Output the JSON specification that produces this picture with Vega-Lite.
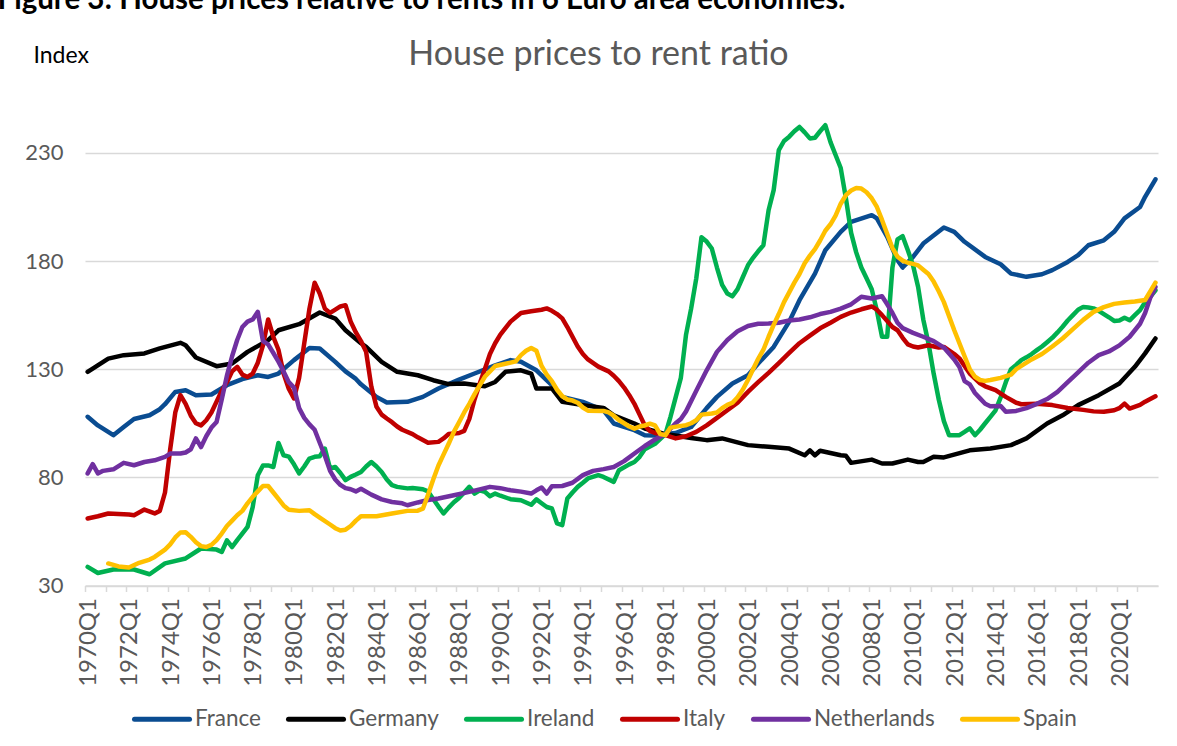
{
"$schema": "https://vega.github.io/schema/vega-lite/v6.json",
"width": 1073, "height": 497.5,
"autosize": {"type": "none"},
"padding": {"left": 85, "top": 88, "right": 19, "bottom": 160.5},
"background": "white",
"config": {"view": {"stroke": null}, "font": "Lato"},
"title": {"text": "House prices to rent ratio", "fontSize": 34, "font": "Lato", "fontWeight": "normal", "color": "#595959", "anchor": "middle", "frame": "group", "dx": -23, "offset": 20, "dy": 108},
"data": {"values": [
{"country":"France","quarter":"1970-01-01","value":108},{"country":"France","quarter":"1970-07-01","value":104},{"country":"France","quarter":"1971-04-01","value":99.5},{"country":"France","quarter":"1971-10-01","value":103.3},{"country":"France","quarter":"1972-04-01","value":107},{"country":"France","quarter":"1973-01-01","value":108.7},{"country":"France","quarter":"1973-07-01","value":111.5},{"country":"France","quarter":"1973-10-01","value":113.8},{"country":"France","quarter":"1974-04-01","value":119.5},{"country":"France","quarter":"1974-10-01","value":120.3},{"country":"France","quarter":"1975-04-01","value":118},{"country":"France","quarter":"1976-01-01","value":118.3},{"country":"France","quarter":"1976-10-01","value":122.6},{"country":"France","quarter":"1977-07-01","value":125.4},{"country":"France","quarter":"1978-04-01","value":127.2},{"country":"France","quarter":"1978-10-01","value":126.4},{"country":"France","quarter":"1979-04-01","value":128},{"country":"France","quarter":"1980-01-01","value":134.2},{"country":"France","quarter":"1980-10-01","value":139.8},{"country":"France","quarter":"1981-04-01","value":139.6},{"country":"France","quarter":"1982-01-01","value":133.4},{"country":"France","quarter":"1982-07-01","value":129},{"country":"France","quarter":"1983-01-01","value":125.5},{"country":"France","quarter":"1983-04-01","value":123},{"country":"France","quarter":"1984-01-01","value":117.2},{"country":"France","quarter":"1984-07-01","value":114.6},{"country":"France","quarter":"1985-07-01","value":114.9},{"country":"France","quarter":"1986-04-01","value":117.2},{"country":"France","quarter":"1987-01-01","value":121.1},{"country":"France","quarter":"1988-01-01","value":125.2},{"country":"France","quarter":"1988-10-01","value":128},{"country":"France","quarter":"1989-10-01","value":131.8},{"country":"France","quarter":"1990-07-01","value":134.2},{"country":"France","quarter":"1991-01-01","value":133.4},{"country":"France","quarter":"1991-10-01","value":129.5},{"country":"France","quarter":"1992-07-01","value":122.6},{"country":"France","quarter":"1993-01-01","value":117.2},{"country":"France","quarter":"1994-01-01","value":114.9},{"country":"France","quarter":"1995-01-01","value":111},{"country":"France","quarter":"1995-07-01","value":104.9},{"country":"France","quarter":"1996-07-01","value":101.8},{"country":"France","quarter":"1997-01-01","value":99.5},{"country":"France","quarter":"1997-07-01","value":99.3},{"country":"France","quarter":"1998-01-01","value":100},{"country":"France","quarter":"1998-07-01","value":100.5},{"country":"France","quarter":"1999-04-01","value":103.3},{"country":"France","quarter":"2000-01-01","value":112},{"country":"France","quarter":"2000-07-01","value":117.2},{"country":"France","quarter":"2001-04-01","value":123.4},{"country":"France","quarter":"2002-01-01","value":127.2},{"country":"France","quarter":"2002-07-01","value":132.6},{"country":"France","quarter":"2003-04-01","value":140.3},{"country":"France","quarter":"2004-01-01","value":152},{"country":"France","quarter":"2004-07-01","value":161.9},{"country":"France","quarter":"2005-04-01","value":174.2},{"country":"France","quarter":"2005-10-01","value":185},{"country":"France","quarter":"2006-07-01","value":193.5},{"country":"France","quarter":"2007-01-01","value":198.1},{"country":"France","quarter":"2008-01-01","value":201.2},{"country":"France","quarter":"2008-04-01","value":199.7},{"country":"France","quarter":"2008-10-01","value":191.2},{"country":"France","quarter":"2009-04-01","value":180.4},{"country":"France","quarter":"2009-07-01","value":177},{"country":"France","quarter":"2010-01-01","value":181.9},{"country":"France","quarter":"2010-07-01","value":188.1},{"country":"France","quarter":"2011-07-01","value":195.5},{"country":"France","quarter":"2012-01-01","value":193.5},{"country":"France","quarter":"2012-07-01","value":188.9},{"country":"France","quarter":"2013-07-01","value":181.9},{"country":"France","quarter":"2014-04-01","value":178.5},{"country":"France","quarter":"2014-10-01","value":174.2},{"country":"France","quarter":"2015-07-01","value":172.7},{"country":"France","quarter":"2016-04-01","value":173.9},{"country":"France","quarter":"2016-10-01","value":175.8},{"country":"France","quarter":"2017-07-01","value":179.6},{"country":"France","quarter":"2018-01-01","value":182.7},{"country":"France","quarter":"2018-07-01","value":187.3},{"country":"France","quarter":"2019-04-01","value":189.6},{"country":"France","quarter":"2019-10-01","value":193.5},{"country":"France","quarter":"2020-04-01","value":199.7},{"country":"France","quarter":"2021-01-01","value":205},{"country":"France","quarter":"2021-04-01","value":209.7},{"country":"France","quarter":"2021-10-01","value":217.8},
{"country":"Germany","quarter":"1970-01-01","value":128.8},{"country":"Germany","quarter":"1971-01-01","value":134.9},{"country":"Germany","quarter":"1971-10-01","value":136.5},{"country":"Germany","quarter":"1972-10-01","value":137.3},{"country":"Germany","quarter":"1973-07-01","value":139.6},{"country":"Germany","quarter":"1974-07-01","value":142.2},{"country":"Germany","quarter":"1974-10-01","value":141.1},{"country":"Germany","quarter":"1975-04-01","value":135.4},{"country":"Germany","quarter":"1976-04-01","value":131.4},{"country":"Germany","quarter":"1977-01-01","value":132.6},{"country":"Germany","quarter":"1977-10-01","value":138},{"country":"Germany","quarter":"1978-10-01","value":143.4},{"country":"Germany","quarter":"1979-04-01","value":148},{"country":"Germany","quarter":"1980-04-01","value":150.8},{"country":"Germany","quarter":"1981-04-01","value":156.2},{"country":"Germany","quarter":"1982-01-01","value":153.4},{"country":"Germany","quarter":"1982-07-01","value":148},{"country":"Germany","quarter":"1983-04-01","value":142},{"country":"Germany","quarter":"1983-07-01","value":140.3},{"country":"Germany","quarter":"1984-04-01","value":133.4},{"country":"Germany","quarter":"1985-01-01","value":128.8},{"country":"Germany","quarter":"1986-01-01","value":127.2},{"country":"Germany","quarter":"1986-10-01","value":124.9},{"country":"Germany","quarter":"1987-07-01","value":123.1},{"country":"Germany","quarter":"1988-04-01","value":123.4},{"country":"Germany","quarter":"1989-04-01","value":122.1},{"country":"Germany","quarter":"1989-10-01","value":124.1},{"country":"Germany","quarter":"1990-04-01","value":128.8},{"country":"Germany","quarter":"1991-01-01","value":129.5},{"country":"Germany","quarter":"1991-07-01","value":128},{"country":"Germany","quarter":"1991-10-01","value":121.1},{"country":"Germany","quarter":"1992-07-01","value":121.1},{"country":"Germany","quarter":"1993-01-01","value":114.9},{"country":"Germany","quarter":"1994-01-01","value":113.4},{"country":"Germany","quarter":"1995-01-01","value":112.1},{"country":"Germany","quarter":"1995-07-01","value":108.7},{"country":"Germany","quarter":"1996-07-01","value":104.9},{"country":"Germany","quarter":"1997-01-01","value":102.6},{"country":"Germany","quarter":"1998-01-01","value":100},{"country":"Germany","quarter":"1999-04-01","value":98.2},{"country":"Germany","quarter":"2000-01-01","value":97.2},{"country":"Germany","quarter":"2000-10-01","value":98},{"country":"Germany","quarter":"2002-01-01","value":94.9},{"country":"Germany","quarter":"2003-01-01","value":94.1},{"country":"Germany","quarter":"2004-01-01","value":93.3},{"country":"Germany","quarter":"2004-10-01","value":90.2},{"country":"Germany","quarter":"2005-01-01","value":92.5},{"country":"Germany","quarter":"2005-04-01","value":90.2},{"country":"Germany","quarter":"2005-07-01","value":92.3},{"country":"Germany","quarter":"2006-07-01","value":90.2},{"country":"Germany","quarter":"2006-10-01","value":90},{"country":"Germany","quarter":"2007-01-01","value":86.7},{"country":"Germany","quarter":"2008-01-01","value":88.2},{"country":"Germany","quarter":"2008-07-01","value":86.4},{"country":"Germany","quarter":"2009-01-01","value":86.4},{"country":"Germany","quarter":"2009-10-01","value":88.2},{"country":"Germany","quarter":"2010-04-01","value":87.1},{"country":"Germany","quarter":"2010-07-01","value":87.1},{"country":"Germany","quarter":"2011-01-01","value":89.5},{"country":"Germany","quarter":"2011-07-01","value":89.2},{"country":"Germany","quarter":"2012-10-01","value":92.5},{"country":"Germany","quarter":"2013-10-01","value":93.3},{"country":"Germany","quarter":"2014-10-01","value":94.9},{"country":"Germany","quarter":"2015-07-01","value":98},{"country":"Germany","quarter":"2016-07-01","value":104.9},{"country":"Germany","quarter":"2017-04-01","value":108.7},{"country":"Germany","quarter":"2018-01-01","value":113.4},{"country":"Germany","quarter":"2019-01-01","value":118},{"country":"Germany","quarter":"2020-01-01","value":123.4},{"country":"Germany","quarter":"2020-10-01","value":131.1},{"country":"Germany","quarter":"2021-04-01","value":137.3},{"country":"Germany","quarter":"2021-10-01","value":144.2},
{"country":"Ireland","quarter":"1970-01-01","value":38.6},{"country":"Ireland","quarter":"1970-07-01","value":35.8},{"country":"Ireland","quarter":"1971-04-01","value":37.4},{"country":"Ireland","quarter":"1972-04-01","value":37.4},{"country":"Ireland","quarter":"1973-01-01","value":35.2},{"country":"Ireland","quarter":"1973-10-01","value":40.2},{"country":"Ireland","quarter":"1974-10-01","value":42.5},{"country":"Ireland","quarter":"1975-07-01","value":47.1},{"country":"Ireland","quarter":"1976-04-01","value":46.6},{"country":"Ireland","quarter":"1976-07-01","value":45.5},{"country":"Ireland","quarter":"1976-10-01","value":50.9},{"country":"Ireland","quarter":"1977-01-01","value":47.8},{"country":"Ireland","quarter":"1977-04-01","value":51},{"country":"Ireland","quarter":"1977-10-01","value":57.1},{"country":"Ireland","quarter":"1978-01-01","value":66.3},{"country":"Ireland","quarter":"1978-04-01","value":81},{"country":"Ireland","quarter":"1978-07-01","value":85.5},{"country":"Ireland","quarter":"1978-10-01","value":85.5},{"country":"Ireland","quarter":"1979-01-01","value":84.8},{"country":"Ireland","quarter":"1979-04-01","value":95.9},{"country":"Ireland","quarter":"1979-07-01","value":90.2},{"country":"Ireland","quarter":"1979-10-01","value":89.6},{"country":"Ireland","quarter":"1980-01-01","value":86},{"country":"Ireland","quarter":"1980-04-01","value":81.8},{"country":"Ireland","quarter":"1980-07-01","value":85},{"country":"Ireland","quarter":"1980-10-01","value":88.7},{"country":"Ireland","quarter":"1981-01-01","value":89.5},{"country":"Ireland","quarter":"1981-04-01","value":89.8},{"country":"Ireland","quarter":"1981-07-01","value":93.3},{"country":"Ireland","quarter":"1981-10-01","value":84.1},{"country":"Ireland","quarter":"1982-01-01","value":84.8},{"country":"Ireland","quarter":"1982-04-01","value":82},{"country":"Ireland","quarter":"1982-07-01","value":78.7},{"country":"Ireland","quarter":"1982-10-01","value":80.2},{"country":"Ireland","quarter":"1983-01-01","value":81.3},{"country":"Ireland","quarter":"1983-04-01","value":82.5},{"country":"Ireland","quarter":"1983-07-01","value":85},{"country":"Ireland","quarter":"1983-10-01","value":87.1},{"country":"Ireland","quarter":"1984-01-01","value":85},{"country":"Ireland","quarter":"1984-04-01","value":82.5},{"country":"Ireland","quarter":"1984-07-01","value":79},{"country":"Ireland","quarter":"1984-10-01","value":76.4},{"country":"Ireland","quarter":"1985-01-01","value":75.6},{"country":"Ireland","quarter":"1985-07-01","value":74.9},{"country":"Ireland","quarter":"1985-10-01","value":75.1},{"country":"Ireland","quarter":"1986-04-01","value":74.5},{"country":"Ireland","quarter":"1986-07-01","value":73.5},{"country":"Ireland","quarter":"1986-10-01","value":70},{"country":"Ireland","quarter":"1987-01-01","value":66.5},{"country":"Ireland","quarter":"1987-04-01","value":63.3},{"country":"Ireland","quarter":"1987-07-01","value":66},{"country":"Ireland","quarter":"1987-10-01","value":68.5},{"country":"Ireland","quarter":"1988-01-01","value":70.5},{"country":"Ireland","quarter":"1988-04-01","value":73},{"country":"Ireland","quarter":"1988-07-01","value":75.6},{"country":"Ireland","quarter":"1988-10-01","value":72.5},{"country":"Ireland","quarter":"1989-01-01","value":74},{"country":"Ireland","quarter":"1989-04-01","value":73.3},{"country":"Ireland","quarter":"1989-07-01","value":71.3},{"country":"Ireland","quarter":"1989-10-01","value":72.5},{"country":"Ireland","quarter":"1990-01-01","value":71.5},{"country":"Ireland","quarter":"1990-07-01","value":69.9},{"country":"Ireland","quarter":"1991-01-01","value":69.4},{"country":"Ireland","quarter":"1991-07-01","value":67.3},{"country":"Ireland","quarter":"1991-10-01","value":69.8},{"country":"Ireland","quarter":"1992-01-01","value":68},{"country":"Ireland","quarter":"1992-04-01","value":66.3},{"country":"Ireland","quarter":"1992-07-01","value":65.6},{"country":"Ireland","quarter":"1992-10-01","value":58.7},{"country":"Ireland","quarter":"1993-01-01","value":57.9},{"country":"Ireland","quarter":"1993-04-01","value":70.2},{"country":"Ireland","quarter":"1993-07-01","value":73},{"country":"Ireland","quarter":"1993-10-01","value":75.6},{"country":"Ireland","quarter":"1994-01-01","value":77.5},{"country":"Ireland","quarter":"1994-04-01","value":79.5},{"country":"Ireland","quarter":"1994-10-01","value":81},{"country":"Ireland","quarter":"1995-01-01","value":80.2},{"country":"Ireland","quarter":"1995-07-01","value":77.9},{"country":"Ireland","quarter":"1995-10-01","value":83.3},{"country":"Ireland","quarter":"1996-04-01","value":86},{"country":"Ireland","quarter":"1996-07-01","value":87.1},{"country":"Ireland","quarter":"1996-10-01","value":89.5},{"country":"Ireland","quarter":"1997-01-01","value":93},{"country":"Ireland","quarter":"1997-07-01","value":95.5},{"country":"Ireland","quarter":"1998-01-01","value":100},{"country":"Ireland","quarter":"1998-04-01","value":108},{"country":"Ireland","quarter":"1998-07-01","value":117},{"country":"Ireland","quarter":"1998-10-01","value":126},{"country":"Ireland","quarter":"1999-01-01","value":146},{"country":"Ireland","quarter":"1999-04-01","value":158},{"country":"Ireland","quarter":"1999-07-01","value":172},{"country":"Ireland","quarter":"1999-10-01","value":191},{"country":"Ireland","quarter":"2000-01-01","value":189},{"country":"Ireland","quarter":"2000-04-01","value":185.8},{"country":"Ireland","quarter":"2000-07-01","value":177},{"country":"Ireland","quarter":"2000-10-01","value":169},{"country":"Ireland","quarter":"2001-01-01","value":165},{"country":"Ireland","quarter":"2001-04-01","value":163.7},{"country":"Ireland","quarter":"2001-07-01","value":167},{"country":"Ireland","quarter":"2001-10-01","value":172.5},{"country":"Ireland","quarter":"2002-01-01","value":178},{"country":"Ireland","quarter":"2002-04-01","value":181.5},{"country":"Ireland","quarter":"2002-07-01","value":184.5},{"country":"Ireland","quarter":"2002-10-01","value":187.3},{"country":"Ireland","quarter":"2003-01-01","value":203.5},{"country":"Ireland","quarter":"2003-04-01","value":212.8},{"country":"Ireland","quarter":"2003-07-01","value":231.3},{"country":"Ireland","quarter":"2003-10-01","value":235.5},{"country":"Ireland","quarter":"2004-01-01","value":237.5},{"country":"Ireland","quarter":"2004-04-01","value":240},{"country":"Ireland","quarter":"2004-07-01","value":242},{"country":"Ireland","quarter":"2004-10-01","value":239.5},{"country":"Ireland","quarter":"2005-01-01","value":236.7},{"country":"Ireland","quarter":"2005-04-01","value":237},{"country":"Ireland","quarter":"2005-07-01","value":240},{"country":"Ireland","quarter":"2005-10-01","value":242.8},{"country":"Ireland","quarter":"2006-01-01","value":235},{"country":"Ireland","quarter":"2006-04-01","value":229},{"country":"Ireland","quarter":"2006-07-01","value":223},{"country":"Ireland","quarter":"2006-10-01","value":209},{"country":"Ireland","quarter":"2007-01-01","value":193},{"country":"Ireland","quarter":"2007-04-01","value":184},{"country":"Ireland","quarter":"2007-07-01","value":177},{"country":"Ireland","quarter":"2007-10-01","value":172},{"country":"Ireland","quarter":"2008-01-01","value":167},{"country":"Ireland","quarter":"2008-04-01","value":157},{"country":"Ireland","quarter":"2008-07-01","value":145},{"country":"Ireland","quarter":"2008-10-01","value":145},{"country":"Ireland","quarter":"2009-01-01","value":177},{"country":"Ireland","quarter":"2009-04-01","value":190},{"country":"Ireland","quarter":"2009-07-01","value":191.5},{"country":"Ireland","quarter":"2009-10-01","value":185},{"country":"Ireland","quarter":"2010-01-01","value":178},{"country":"Ireland","quarter":"2010-04-01","value":168},{"country":"Ireland","quarter":"2010-07-01","value":153},{"country":"Ireland","quarter":"2010-10-01","value":142},{"country":"Ireland","quarter":"2011-01-01","value":128},{"country":"Ireland","quarter":"2011-04-01","value":116},{"country":"Ireland","quarter":"2011-07-01","value":106},{"country":"Ireland","quarter":"2011-10-01","value":99.5},{"country":"Ireland","quarter":"2012-01-01","value":99.5},{"country":"Ireland","quarter":"2012-04-01","value":99.5},{"country":"Ireland","quarter":"2012-07-01","value":101},{"country":"Ireland","quarter":"2012-10-01","value":102.6},{"country":"Ireland","quarter":"2013-01-01","value":99.5},{"country":"Ireland","quarter":"2013-04-01","value":102},{"country":"Ireland","quarter":"2013-07-01","value":105},{"country":"Ireland","quarter":"2013-10-01","value":108},{"country":"Ireland","quarter":"2014-01-01","value":111},{"country":"Ireland","quarter":"2014-04-01","value":117},{"country":"Ireland","quarter":"2014-07-01","value":124},{"country":"Ireland","quarter":"2014-10-01","value":130},{"country":"Ireland","quarter":"2015-01-01","value":132},{"country":"Ireland","quarter":"2015-04-01","value":134.2},{"country":"Ireland","quarter":"2015-07-01","value":135.5},{"country":"Ireland","quarter":"2015-10-01","value":137},{"country":"Ireland","quarter":"2016-01-01","value":138.8},{"country":"Ireland","quarter":"2016-04-01","value":140.5},{"country":"Ireland","quarter":"2016-07-01","value":142.5},{"country":"Ireland","quarter":"2016-10-01","value":144.5},{"country":"Ireland","quarter":"2017-01-01","value":147},{"country":"Ireland","quarter":"2017-04-01","value":149.6},{"country":"Ireland","quarter":"2017-07-01","value":152.5},{"country":"Ireland","quarter":"2017-10-01","value":155},{"country":"Ireland","quarter":"2018-01-01","value":157.5},{"country":"Ireland","quarter":"2018-04-01","value":158.8},{"country":"Ireland","quarter":"2018-07-01","value":158.5},{"country":"Ireland","quarter":"2018-10-01","value":158.1},{"country":"Ireland","quarter":"2019-01-01","value":157},{"country":"Ireland","quarter":"2019-04-01","value":155.5},{"country":"Ireland","quarter":"2019-07-01","value":154},{"country":"Ireland","quarter":"2019-10-01","value":152.3},{"country":"Ireland","quarter":"2020-01-01","value":152.5},{"country":"Ireland","quarter":"2020-04-01","value":153.8},{"country":"Ireland","quarter":"2020-07-01","value":152.6},{"country":"Ireland","quarter":"2020-10-01","value":155},{"country":"Ireland","quarter":"2021-01-01","value":157.3},{"country":"Ireland","quarter":"2021-04-01","value":161},{"country":"Ireland","quarter":"2021-07-01","value":163.5},{"country":"Ireland","quarter":"2021-10-01","value":166.5},
{"country":"Italy","quarter":"1970-01-01","value":61},{"country":"Italy","quarter":"1970-07-01","value":62},{"country":"Italy","quarter":"1971-01-01","value":63.3},{"country":"Italy","quarter":"1971-07-01","value":63},{"country":"Italy","quarter":"1972-01-01","value":62.8},{"country":"Italy","quarter":"1972-04-01","value":62.5},{"country":"Italy","quarter":"1972-10-01","value":65.1},{"country":"Italy","quarter":"1973-04-01","value":63.3},{"country":"Italy","quarter":"1973-07-01","value":64.5},{"country":"Italy","quarter":"1973-10-01","value":73},{"country":"Italy","quarter":"1974-01-01","value":93},{"country":"Italy","quarter":"1974-04-01","value":110},{"country":"Italy","quarter":"1974-07-01","value":118},{"country":"Italy","quarter":"1974-10-01","value":114},{"country":"Italy","quarter":"1975-01-01","value":108.5},{"country":"Italy","quarter":"1975-04-01","value":105},{"country":"Italy","quarter":"1975-07-01","value":104},{"country":"Italy","quarter":"1975-10-01","value":106.4},{"country":"Italy","quarter":"1976-01-01","value":110},{"country":"Italy","quarter":"1976-04-01","value":115},{"country":"Italy","quarter":"1976-07-01","value":120},{"country":"Italy","quarter":"1976-10-01","value":124},{"country":"Italy","quarter":"1977-01-01","value":129},{"country":"Italy","quarter":"1977-04-01","value":131.1},{"country":"Italy","quarter":"1977-07-01","value":127.5},{"country":"Italy","quarter":"1977-10-01","value":126.4},{"country":"Italy","quarter":"1978-01-01","value":128},{"country":"Italy","quarter":"1978-04-01","value":133},{"country":"Italy","quarter":"1978-07-01","value":141},{"country":"Italy","quarter":"1978-10-01","value":153},{"country":"Italy","quarter":"1979-01-01","value":144.9},{"country":"Italy","quarter":"1979-04-01","value":139},{"country":"Italy","quarter":"1979-07-01","value":128},{"country":"Italy","quarter":"1979-10-01","value":121},{"country":"Italy","quarter":"1980-01-01","value":116.5},{"country":"Italy","quarter":"1980-04-01","value":126},{"country":"Italy","quarter":"1980-07-01","value":142},{"country":"Italy","quarter":"1980-10-01","value":158},{"country":"Italy","quarter":"1981-01-01","value":170},{"country":"Italy","quarter":"1981-04-01","value":165},{"country":"Italy","quarter":"1981-07-01","value":158},{"country":"Italy","quarter":"1981-10-01","value":156},{"country":"Italy","quarter":"1982-01-01","value":157.5},{"country":"Italy","quarter":"1982-04-01","value":159},{"country":"Italy","quarter":"1982-07-01","value":159.6},{"country":"Italy","quarter":"1982-10-01","value":152},{"country":"Italy","quarter":"1983-01-01","value":147},{"country":"Italy","quarter":"1983-04-01","value":143},{"country":"Italy","quarter":"1983-07-01","value":138},{"country":"Italy","quarter":"1983-10-01","value":122},{"country":"Italy","quarter":"1984-01-01","value":112.6},{"country":"Italy","quarter":"1984-04-01","value":109},{"country":"Italy","quarter":"1984-07-01","value":107.2},{"country":"Italy","quarter":"1984-10-01","value":105.5},{"country":"Italy","quarter":"1985-01-01","value":103.5},{"country":"Italy","quarter":"1985-04-01","value":102},{"country":"Italy","quarter":"1985-10-01","value":100},{"country":"Italy","quarter":"1986-01-01","value":98.5},{"country":"Italy","quarter":"1986-07-01","value":96},{"country":"Italy","quarter":"1987-01-01","value":96.4},{"country":"Italy","quarter":"1987-04-01","value":98},{"country":"Italy","quarter":"1987-07-01","value":100},{"country":"Italy","quarter":"1988-01-01","value":100.5},{"country":"Italy","quarter":"1988-04-01","value":101.5},{"country":"Italy","quarter":"1988-07-01","value":107},{"country":"Italy","quarter":"1988-10-01","value":116},{"country":"Italy","quarter":"1989-01-01","value":123.4},{"country":"Italy","quarter":"1989-04-01","value":130},{"country":"Italy","quarter":"1989-07-01","value":137},{"country":"Italy","quarter":"1989-10-01","value":142},{"country":"Italy","quarter":"1990-01-01","value":146},{"country":"Italy","quarter":"1990-04-01","value":149},{"country":"Italy","quarter":"1990-07-01","value":152},{"country":"Italy","quarter":"1990-10-01","value":154},{"country":"Italy","quarter":"1991-01-01","value":156},{"country":"Italy","quarter":"1991-07-01","value":156.8},{"country":"Italy","quarter":"1992-01-01","value":157.5},{"country":"Italy","quarter":"1992-04-01","value":158.1},{"country":"Italy","quarter":"1992-07-01","value":157},{"country":"Italy","quarter":"1992-10-01","value":155.5},{"country":"Italy","quarter":"1993-01-01","value":153.5},{"country":"Italy","quarter":"1993-04-01","value":149.5},{"country":"Italy","quarter":"1993-07-01","value":145},{"country":"Italy","quarter":"1993-10-01","value":140.5},{"country":"Italy","quarter":"1994-01-01","value":137},{"country":"Italy","quarter":"1994-04-01","value":134.5},{"country":"Italy","quarter":"1994-10-01","value":131.2},{"country":"Italy","quarter":"1995-04-01","value":129},{"country":"Italy","quarter":"1995-07-01","value":127},{"country":"Italy","quarter":"1995-10-01","value":124.5},{"country":"Italy","quarter":"1996-01-01","value":121.5},{"country":"Italy","quarter":"1996-04-01","value":118},{"country":"Italy","quarter":"1996-07-01","value":114},{"country":"Italy","quarter":"1996-10-01","value":109},{"country":"Italy","quarter":"1997-01-01","value":104},{"country":"Italy","quarter":"1997-04-01","value":101.5},{"country":"Italy","quarter":"1997-07-01","value":100.5},{"country":"Italy","quarter":"1998-01-01","value":99.5},{"country":"Italy","quarter":"1998-07-01","value":98},{"country":"Italy","quarter":"1999-01-01","value":99},{"country":"Italy","quarter":"1999-07-01","value":101},{"country":"Italy","quarter":"2000-01-01","value":104},{"country":"Italy","quarter":"2000-07-01","value":107.5},{"country":"Italy","quarter":"2001-01-01","value":111},{"country":"Italy","quarter":"2001-07-01","value":114.5},{"country":"Italy","quarter":"2002-01-01","value":119.5},{"country":"Italy","quarter":"2002-07-01","value":124},{"country":"Italy","quarter":"2003-01-01","value":128.3},{"country":"Italy","quarter":"2003-07-01","value":132.8},{"country":"Italy","quarter":"2004-01-01","value":137.5},{"country":"Italy","quarter":"2004-07-01","value":142},{"country":"Italy","quarter":"2005-01-01","value":145.5},{"country":"Italy","quarter":"2005-07-01","value":148.9},{"country":"Italy","quarter":"2006-01-01","value":151.5},{"country":"Italy","quarter":"2006-07-01","value":154.2},{"country":"Italy","quarter":"2007-01-01","value":156.2},{"country":"Italy","quarter":"2007-07-01","value":157.7},{"country":"Italy","quarter":"2008-01-01","value":159},{"country":"Italy","quarter":"2008-04-01","value":157.5},{"country":"Italy","quarter":"2008-07-01","value":155},{"country":"Italy","quarter":"2009-01-01","value":149.5},{"country":"Italy","quarter":"2009-04-01","value":148},{"country":"Italy","quarter":"2009-07-01","value":144.5},{"country":"Italy","quarter":"2009-10-01","value":141.5},{"country":"Italy","quarter":"2010-01-01","value":140.5},{"country":"Italy","quarter":"2010-04-01","value":140},{"country":"Italy","quarter":"2010-10-01","value":141.1},{"country":"Italy","quarter":"2011-04-01","value":140},{"country":"Italy","quarter":"2011-07-01","value":140.3},{"country":"Italy","quarter":"2012-01-01","value":137},{"country":"Italy","quarter":"2012-04-01","value":135},{"country":"Italy","quarter":"2012-10-01","value":128},{"country":"Italy","quarter":"2013-04-01","value":123.5},{"country":"Italy","quarter":"2013-07-01","value":122.1},{"country":"Italy","quarter":"2014-01-01","value":120.3},{"country":"Italy","quarter":"2014-07-01","value":117.2},{"country":"Italy","quarter":"2015-01-01","value":114.5},{"country":"Italy","quarter":"2015-04-01","value":113.8},{"country":"Italy","quarter":"2016-01-01","value":114},{"country":"Italy","quarter":"2016-10-01","value":113.4},{"country":"Italy","quarter":"2017-07-01","value":112.1},{"country":"Italy","quarter":"2018-04-01","value":111.2},{"country":"Italy","quarter":"2018-10-01","value":110.5},{"country":"Italy","quarter":"2019-04-01","value":110.3},{"country":"Italy","quarter":"2019-10-01","value":111},{"country":"Italy","quarter":"2020-01-01","value":112},{"country":"Italy","quarter":"2020-04-01","value":114.1},{"country":"Italy","quarter":"2020-07-01","value":111.8},{"country":"Italy","quarter":"2021-01-01","value":113.5},{"country":"Italy","quarter":"2021-04-01","value":115},{"country":"Italy","quarter":"2021-10-01","value":117.5},
{"country":"Netherlands","quarter":"1970-01-01","value":81.8},{"country":"Netherlands","quarter":"1970-04-01","value":86.1},{"country":"Netherlands","quarter":"1970-07-01","value":81.8},{"country":"Netherlands","quarter":"1970-10-01","value":83},{"country":"Netherlands","quarter":"1971-04-01","value":83.7},{"country":"Netherlands","quarter":"1971-10-01","value":86.7},{"country":"Netherlands","quarter":"1972-04-01","value":85.6},{"country":"Netherlands","quarter":"1972-10-01","value":87.1},{"country":"Netherlands","quarter":"1973-04-01","value":87.9},{"country":"Netherlands","quarter":"1973-10-01","value":89.5},{"country":"Netherlands","quarter":"1974-01-01","value":91},{"country":"Netherlands","quarter":"1974-07-01","value":91},{"country":"Netherlands","quarter":"1974-10-01","value":91.5},{"country":"Netherlands","quarter":"1975-01-01","value":93},{"country":"Netherlands","quarter":"1975-04-01","value":98},{"country":"Netherlands","quarter":"1975-07-01","value":94},{"country":"Netherlands","quarter":"1975-10-01","value":99},{"country":"Netherlands","quarter":"1976-01-01","value":103},{"country":"Netherlands","quarter":"1976-04-01","value":105.6},{"country":"Netherlands","quarter":"1976-07-01","value":116},{"country":"Netherlands","quarter":"1976-10-01","value":127},{"country":"Netherlands","quarter":"1977-01-01","value":136},{"country":"Netherlands","quarter":"1977-04-01","value":143.5},{"country":"Netherlands","quarter":"1977-07-01","value":149.5},{"country":"Netherlands","quarter":"1977-10-01","value":152},{"country":"Netherlands","quarter":"1978-01-01","value":153},{"country":"Netherlands","quarter":"1978-04-01","value":156.5},{"country":"Netherlands","quarter":"1978-07-01","value":143},{"country":"Netherlands","quarter":"1978-10-01","value":141.5},{"country":"Netherlands","quarter":"1979-01-01","value":137.5},{"country":"Netherlands","quarter":"1979-04-01","value":133.5},{"country":"Netherlands","quarter":"1979-07-01","value":129},{"country":"Netherlands","quarter":"1979-10-01","value":124},{"country":"Netherlands","quarter":"1980-01-01","value":121.5},{"country":"Netherlands","quarter":"1980-04-01","value":112},{"country":"Netherlands","quarter":"1980-07-01","value":107.5},{"country":"Netherlands","quarter":"1980-10-01","value":104.5},{"country":"Netherlands","quarter":"1981-01-01","value":102},{"country":"Netherlands","quarter":"1981-04-01","value":96},{"country":"Netherlands","quarter":"1981-07-01","value":90},{"country":"Netherlands","quarter":"1981-10-01","value":83},{"country":"Netherlands","quarter":"1982-01-01","value":79},{"country":"Netherlands","quarter":"1982-04-01","value":76.5},{"country":"Netherlands","quarter":"1982-07-01","value":75},{"country":"Netherlands","quarter":"1982-10-01","value":74.5},{"country":"Netherlands","quarter":"1983-01-01","value":73.5},{"country":"Netherlands","quarter":"1983-04-01","value":74.7},{"country":"Netherlands","quarter":"1983-10-01","value":72},{"country":"Netherlands","quarter":"1984-04-01","value":69.8},{"country":"Netherlands","quarter":"1984-10-01","value":68.6},{"country":"Netherlands","quarter":"1985-04-01","value":68},{"country":"Netherlands","quarter":"1985-07-01","value":67.1},{"country":"Netherlands","quarter":"1986-01-01","value":68.4},{"country":"Netherlands","quarter":"1986-07-01","value":69.5},{"country":"Netherlands","quarter":"1987-01-01","value":70.2},{"country":"Netherlands","quarter":"1987-10-01","value":71.7},{"country":"Netherlands","quarter":"1988-07-01","value":73.3},{"country":"Netherlands","quarter":"1989-07-01","value":75.6},{"country":"Netherlands","quarter":"1990-01-01","value":75},{"country":"Netherlands","quarter":"1990-07-01","value":74},{"country":"Netherlands","quarter":"1991-01-01","value":73.4},{"country":"Netherlands","quarter":"1991-07-01","value":72.5},{"country":"Netherlands","quarter":"1991-10-01","value":74},{"country":"Netherlands","quarter":"1992-01-01","value":75.3},{"country":"Netherlands","quarter":"1992-04-01","value":72.5},{"country":"Netherlands","quarter":"1992-07-01","value":75.9},{"country":"Netherlands","quarter":"1993-01-01","value":76},{"country":"Netherlands","quarter":"1993-07-01","value":77.5},{"country":"Netherlands","quarter":"1994-01-01","value":81},{"country":"Netherlands","quarter":"1994-07-01","value":83},{"country":"Netherlands","quarter":"1995-01-01","value":83.8},{"country":"Netherlands","quarter":"1995-07-01","value":84.8},{"country":"Netherlands","quarter":"1996-01-01","value":87.5},{"country":"Netherlands","quarter":"1996-07-01","value":91},{"country":"Netherlands","quarter":"1997-01-01","value":94.5},{"country":"Netherlands","quarter":"1997-07-01","value":97.5},{"country":"Netherlands","quarter":"1998-01-01","value":100},{"country":"Netherlands","quarter":"1998-07-01","value":105},{"country":"Netherlands","quarter":"1998-10-01","value":107},{"country":"Netherlands","quarter":"1999-01-01","value":110.5},{"country":"Netherlands","quarter":"1999-07-01","value":120},{"country":"Netherlands","quarter":"2000-01-01","value":129.5},{"country":"Netherlands","quarter":"2000-07-01","value":138},{"country":"Netherlands","quarter":"2001-01-01","value":143.5},{"country":"Netherlands","quarter":"2001-07-01","value":147.5},{"country":"Netherlands","quarter":"2002-01-01","value":150},{"country":"Netherlands","quarter":"2002-07-01","value":151},{"country":"Netherlands","quarter":"2003-01-01","value":151.1},{"country":"Netherlands","quarter":"2003-07-01","value":151.5},{"country":"Netherlands","quarter":"2004-01-01","value":152.5},{"country":"Netherlands","quarter":"2004-07-01","value":153},{"country":"Netherlands","quarter":"2005-01-01","value":154},{"country":"Netherlands","quarter":"2005-07-01","value":155.5},{"country":"Netherlands","quarter":"2006-01-01","value":156.5},{"country":"Netherlands","quarter":"2006-07-01","value":158},{"country":"Netherlands","quarter":"2007-01-01","value":160},{"country":"Netherlands","quarter":"2007-07-01","value":163.5},{"country":"Netherlands","quarter":"2008-01-01","value":162.7},{"country":"Netherlands","quarter":"2008-07-01","value":163.7},{"country":"Netherlands","quarter":"2008-10-01","value":160},{"country":"Netherlands","quarter":"2009-01-01","value":156},{"country":"Netherlands","quarter":"2009-04-01","value":151.5},{"country":"Netherlands","quarter":"2009-07-01","value":149},{"country":"Netherlands","quarter":"2010-01-01","value":146.8},{"country":"Netherlands","quarter":"2010-07-01","value":145},{"country":"Netherlands","quarter":"2011-01-01","value":143},{"country":"Netherlands","quarter":"2011-07-01","value":140},{"country":"Netherlands","quarter":"2012-01-01","value":134.5},{"country":"Netherlands","quarter":"2012-04-01","value":131},{"country":"Netherlands","quarter":"2012-07-01","value":124.5},{"country":"Netherlands","quarter":"2012-10-01","value":123},{"country":"Netherlands","quarter":"2013-01-01","value":119},{"country":"Netherlands","quarter":"2013-04-01","value":116.5},{"country":"Netherlands","quarter":"2013-07-01","value":114},{"country":"Netherlands","quarter":"2013-10-01","value":112.9},{"country":"Netherlands","quarter":"2014-04-01","value":113},{"country":"Netherlands","quarter":"2014-07-01","value":110.3},{"country":"Netherlands","quarter":"2015-01-01","value":110.7},{"country":"Netherlands","quarter":"2015-07-01","value":112},{"country":"Netherlands","quarter":"2016-01-01","value":114},{"country":"Netherlands","quarter":"2016-07-01","value":116.2},{"country":"Netherlands","quarter":"2017-01-01","value":119.5},{"country":"Netherlands","quarter":"2017-07-01","value":124},{"country":"Netherlands","quarter":"2018-01-01","value":128.5},{"country":"Netherlands","quarter":"2018-07-01","value":133},{"country":"Netherlands","quarter":"2019-01-01","value":136.5},{"country":"Netherlands","quarter":"2019-07-01","value":138.2},{"country":"Netherlands","quarter":"2020-01-01","value":141},{"country":"Netherlands","quarter":"2020-07-01","value":145},{"country":"Netherlands","quarter":"2021-01-01","value":151},{"country":"Netherlands","quarter":"2021-04-01","value":156},{"country":"Netherlands","quarter":"2021-07-01","value":163},{"country":"Netherlands","quarter":"2021-10-01","value":168},
{"country":"Spain","quarter":"1971-01-01","value":40.2},{"country":"Spain","quarter":"1971-07-01","value":38.8},{"country":"Spain","quarter":"1972-01-01","value":38.3},{"country":"Spain","quarter":"1972-07-01","value":40.5},{"country":"Spain","quarter":"1973-01-01","value":42},{"country":"Spain","quarter":"1973-04-01","value":43.2},{"country":"Spain","quarter":"1973-10-01","value":46.6},{"country":"Spain","quarter":"1974-01-01","value":49},{"country":"Spain","quarter":"1974-04-01","value":52.2},{"country":"Spain","quarter":"1974-07-01","value":54.5},{"country":"Spain","quarter":"1974-10-01","value":54.6},{"country":"Spain","quarter":"1975-01-01","value":52.5},{"country":"Spain","quarter":"1975-04-01","value":50},{"country":"Spain","quarter":"1975-07-01","value":48.2},{"country":"Spain","quarter":"1975-10-01","value":47.8},{"country":"Spain","quarter":"1976-01-01","value":48.8},{"country":"Spain","quarter":"1976-04-01","value":51},{"country":"Spain","quarter":"1976-07-01","value":54},{"country":"Spain","quarter":"1976-10-01","value":57.5},{"country":"Spain","quarter":"1977-01-01","value":60},{"country":"Spain","quarter":"1977-04-01","value":62.5},{"country":"Spain","quarter":"1977-07-01","value":64.5},{"country":"Spain","quarter":"1977-10-01","value":68},{"country":"Spain","quarter":"1978-01-01","value":71},{"country":"Spain","quarter":"1978-04-01","value":73.5},{"country":"Spain","quarter":"1978-07-01","value":76},{"country":"Spain","quarter":"1978-10-01","value":76},{"country":"Spain","quarter":"1979-01-01","value":73},{"country":"Spain","quarter":"1979-04-01","value":70},{"country":"Spain","quarter":"1979-07-01","value":67},{"country":"Spain","quarter":"1979-10-01","value":65},{"country":"Spain","quarter":"1980-04-01","value":64.5},{"country":"Spain","quarter":"1980-10-01","value":64.8},{"country":"Spain","quarter":"1981-01-01","value":63},{"country":"Spain","quarter":"1981-04-01","value":61.4},{"country":"Spain","quarter":"1981-10-01","value":58.2},{"country":"Spain","quarter":"1982-01-01","value":56.5},{"country":"Spain","quarter":"1982-04-01","value":55.4},{"country":"Spain","quarter":"1982-07-01","value":55.8},{"country":"Spain","quarter":"1982-10-01","value":57.5},{"country":"Spain","quarter":"1983-01-01","value":60},{"country":"Spain","quarter":"1983-04-01","value":62},{"country":"Spain","quarter":"1984-01-01","value":62},{"country":"Spain","quarter":"1984-10-01","value":63.3},{"country":"Spain","quarter":"1985-07-01","value":64.5},{"country":"Spain","quarter":"1986-01-01","value":64.6},{"country":"Spain","quarter":"1986-04-01","value":65.5},{"country":"Spain","quarter":"1986-07-01","value":72},{"country":"Spain","quarter":"1986-10-01","value":79},{"country":"Spain","quarter":"1987-01-01","value":85.5},{"country":"Spain","quarter":"1987-04-01","value":90.5},{"country":"Spain","quarter":"1987-07-01","value":95.5},{"country":"Spain","quarter":"1987-10-01","value":101},{"country":"Spain","quarter":"1988-01-01","value":105.5},{"country":"Spain","quarter":"1988-04-01","value":110},{"country":"Spain","quarter":"1988-07-01","value":114},{"country":"Spain","quarter":"1988-10-01","value":118.5},{"country":"Spain","quarter":"1989-01-01","value":122.5},{"country":"Spain","quarter":"1989-04-01","value":126.5},{"country":"Spain","quarter":"1989-07-01","value":129},{"country":"Spain","quarter":"1989-10-01","value":131.5},{"country":"Spain","quarter":"1990-04-01","value":132.5},{"country":"Spain","quarter":"1990-10-01","value":133.6},{"country":"Spain","quarter":"1991-01-01","value":136.5},{"country":"Spain","quarter":"1991-04-01","value":138.5},{"country":"Spain","quarter":"1991-07-01","value":139.8},{"country":"Spain","quarter":"1991-10-01","value":138.5},{"country":"Spain","quarter":"1992-01-01","value":131.5},{"country":"Spain","quarter":"1992-04-01","value":127.5},{"country":"Spain","quarter":"1992-07-01","value":124.5},{"country":"Spain","quarter":"1992-10-01","value":120.5},{"country":"Spain","quarter":"1993-01-01","value":117.5},{"country":"Spain","quarter":"1993-04-01","value":116},{"country":"Spain","quarter":"1993-07-01","value":115.5},{"country":"Spain","quarter":"1993-10-01","value":114.5},{"country":"Spain","quarter":"1994-01-01","value":112.3},{"country":"Spain","quarter":"1994-04-01","value":110.8},{"country":"Spain","quarter":"1995-01-01","value":110.7},{"country":"Spain","quarter":"1995-04-01","value":110},{"country":"Spain","quarter":"1995-07-01","value":108.5},{"country":"Spain","quarter":"1995-10-01","value":106.5},{"country":"Spain","quarter":"1996-04-01","value":103.5},{"country":"Spain","quarter":"1996-07-01","value":102.5},{"country":"Spain","quarter":"1996-10-01","value":103.5},{"country":"Spain","quarter":"1997-01-01","value":104},{"country":"Spain","quarter":"1997-04-01","value":104.8},{"country":"Spain","quarter":"1997-07-01","value":104},{"country":"Spain","quarter":"1997-10-01","value":100},{"country":"Spain","quarter":"1998-01-01","value":99.5},{"country":"Spain","quarter":"1998-04-01","value":103},{"country":"Spain","quarter":"1998-10-01","value":103.8},{"country":"Spain","quarter":"1999-01-01","value":104.1},{"country":"Spain","quarter":"1999-04-01","value":105},{"country":"Spain","quarter":"1999-07-01","value":106.4},{"country":"Spain","quarter":"1999-10-01","value":109},{"country":"Spain","quarter":"2000-04-01","value":109.5},{"country":"Spain","quarter":"2000-07-01","value":110},{"country":"Spain","quarter":"2000-10-01","value":112},{"country":"Spain","quarter":"2001-01-01","value":113.5},{"country":"Spain","quarter":"2001-04-01","value":114.5},{"country":"Spain","quarter":"2001-07-01","value":117},{"country":"Spain","quarter":"2001-10-01","value":120.5},{"country":"Spain","quarter":"2002-01-01","value":125},{"country":"Spain","quarter":"2002-04-01","value":130},{"country":"Spain","quarter":"2002-07-01","value":134.8},{"country":"Spain","quarter":"2002-10-01","value":139},{"country":"Spain","quarter":"2003-01-01","value":145},{"country":"Spain","quarter":"2003-04-01","value":150.5},{"country":"Spain","quarter":"2003-07-01","value":155.5},{"country":"Spain","quarter":"2003-10-01","value":161},{"country":"Spain","quarter":"2004-01-01","value":165.5},{"country":"Spain","quarter":"2004-04-01","value":170},{"country":"Spain","quarter":"2004-07-01","value":174},{"country":"Spain","quarter":"2004-10-01","value":179},{"country":"Spain","quarter":"2005-01-01","value":182.5},{"country":"Spain","quarter":"2005-04-01","value":185.5},{"country":"Spain","quarter":"2005-07-01","value":189.5},{"country":"Spain","quarter":"2005-10-01","value":194},{"country":"Spain","quarter":"2006-01-01","value":197},{"country":"Spain","quarter":"2006-04-01","value":201},{"country":"Spain","quarter":"2006-07-01","value":206.5},{"country":"Spain","quarter":"2006-10-01","value":210.5},{"country":"Spain","quarter":"2007-01-01","value":212.6},{"country":"Spain","quarter":"2007-04-01","value":213.8},{"country":"Spain","quarter":"2007-07-01","value":213.5},{"country":"Spain","quarter":"2007-10-01","value":211.8},{"country":"Spain","quarter":"2008-01-01","value":209},{"country":"Spain","quarter":"2008-04-01","value":205},{"country":"Spain","quarter":"2008-07-01","value":199},{"country":"Spain","quarter":"2008-10-01","value":192.5},{"country":"Spain","quarter":"2009-01-01","value":186},{"country":"Spain","quarter":"2009-04-01","value":182},{"country":"Spain","quarter":"2009-07-01","value":180.2},{"country":"Spain","quarter":"2009-10-01","value":179.2},{"country":"Spain","quarter":"2010-01-01","value":178.7},{"country":"Spain","quarter":"2010-04-01","value":178},{"country":"Spain","quarter":"2010-07-01","value":176},{"country":"Spain","quarter":"2010-10-01","value":174},{"country":"Spain","quarter":"2011-01-01","value":170.5},{"country":"Spain","quarter":"2011-04-01","value":166},{"country":"Spain","quarter":"2011-07-01","value":161},{"country":"Spain","quarter":"2011-10-01","value":154.5},{"country":"Spain","quarter":"2012-01-01","value":148},{"country":"Spain","quarter":"2012-04-01","value":142},{"country":"Spain","quarter":"2012-07-01","value":136},{"country":"Spain","quarter":"2012-10-01","value":130},{"country":"Spain","quarter":"2013-01-01","value":126.5},{"country":"Spain","quarter":"2013-04-01","value":125},{"country":"Spain","quarter":"2013-07-01","value":124.6},{"country":"Spain","quarter":"2013-10-01","value":125},{"country":"Spain","quarter":"2014-04-01","value":126},{"country":"Spain","quarter":"2014-10-01","value":127.5},{"country":"Spain","quarter":"2015-01-01","value":130},{"country":"Spain","quarter":"2015-04-01","value":131.5},{"country":"Spain","quarter":"2015-10-01","value":134.5},{"country":"Spain","quarter":"2016-04-01","value":137},{"country":"Spain","quarter":"2016-10-01","value":140.5},{"country":"Spain","quarter":"2017-04-01","value":144.2},{"country":"Spain","quarter":"2017-10-01","value":148.5},{"country":"Spain","quarter":"2018-04-01","value":152.8},{"country":"Spain","quarter":"2018-10-01","value":156.5},{"country":"Spain","quarter":"2019-04-01","value":158.7},{"country":"Spain","quarter":"2019-10-01","value":160.2},{"country":"Spain","quarter":"2020-04-01","value":160.8},{"country":"Spain","quarter":"2020-10-01","value":161.3},{"country":"Spain","quarter":"2021-04-01","value":162},{"country":"Spain","quarter":"2021-07-01","value":166},{"country":"Spain","quarter":"2021-10-01","value":170}
]},
"mark": {"type": "line", "strokeWidth": 4.5, "strokeJoin": "round", "strokeCap": "round"},
"encoding": {
  "x": {"field": "quarter", "type": "temporal",
    "scale": {"type": "utc", "domain": [{"year": 1969, "month": 11, "date": 15, "utc": true}, {"year": 2021, "month": 11, "date": 15, "utc": true}]},
    "axis": {"tickCount": {"interval": "year", "step": 1}, "grid": false, "domain": true, "domainColor": "#D9D9D9", "domainWidth": 1.5, "ticks": true, "tickColor": "#D9D9D9", "tickWidth": 1.5, "tickSize": 6, "tickOffset": -2.6, "labelOffset": 3.5,
      "labelAngle": -90, "labelAlign": "right", "labelBaseline": "middle", "labelPadding": 6, "labelFontSize": 24, "labelColor": "#595959", "labelFont": "Lato", "labelOverlap": false, "labelFlush": false, "labelBound": false,
      "labelExpr": "utcyear(datum.value) % 2 == 0 ? utcFormat(datum.value, '%YQ%q') : ''",
      "title": "Figure 3: House prices relative to rents in 6 Euro area economies.", "titleX": -88, "titleY": -577.5, "titleAlign": "left", "titleAnchor": null, "titleBaseline": "alphabetic", "titleFontSize": 29.5, "titleFont": "Lato", "titleFontWeight": "bold", "titleColor": "#000000"}},
  "y": {"field": "value", "type": "quantitative",
    "scale": {"domain": [30, 260], "nice": false, "zero": false},
    "axis": {"values": [30, 80, 130, 180, 230], "grid": true, "gridColor": "#D9D9D9", "gridWidth": 1.5, "domain": false, "ticks": false, "labelFontSize": 22, "labelColor": "#595959", "labelFont": "Lato", "labelPadding": 22,
      "title": "Index", "titleAngle": 0, "titleX": -52, "titleY": -33, "titleAlign": "left", "titleBaseline": "middle", "titleFontSize": 23, "titleFont": "Lato", "titleFontWeight": "normal", "titleColor": "#000000"}},
  "color": {"field": "country", "type": "nominal",
    "scale": {"domain": ["France", "Germany", "Ireland", "Italy", "Netherlands", "Spain"], "range": ["#0A4C91", "#000000", "#00B050", "#C00000", "#7030A0", "#FFC000"]},
    "legend": {"orient": "none", "direction": "horizontal", "legendX": 47, "legendY": 601, "title": null, "symbolType": "stroke", "symbolSize": 3025, "symbolStrokeWidth": 5, "labelFontSize": 22.5, "labelColor": "#595959", "labelFont": "Lato", "labelOffset": 3, "columnPadding": 17,
      "encode": {"symbols": {"update": {"strokeCap": {"value": "round"}}}}}}
}
}
